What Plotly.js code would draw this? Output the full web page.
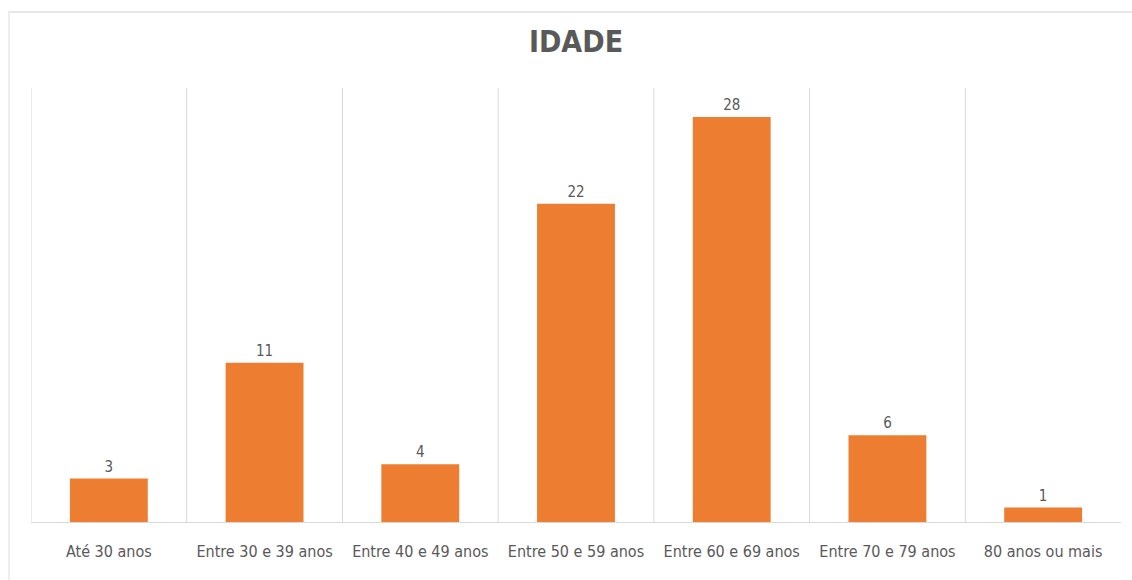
<!DOCTYPE html>
<html>
<head>
<meta charset="utf-8">
<script src="https://cdn.plot.ly/plotly-3.0.1.min.js"></script>
<style>
  html, body { margin: 0; padding: 0; background: #ffffff; }
  #chart { width: 1132px; height: 580px; position: relative; }
  #frame {
    position: absolute; left: 8px; top: 11px; right: 0; bottom: 0;
    border-top: 2px solid #e6e6e6; border-left: 2px solid #eeeeee;
    pointer-events: none;
  }
</style>
</head>
<body>
<div id="chart"></div>
<div id="frame"></div>
<script>
// Age groups and respondent counts
const categories = [
  "Até 30 anos",
  "Entre 30 e 39 anos",
  "Entre 40 e 49 anos",
  "Entre 50 e 59 anos",
  "Entre 60 e 69 anos",
  "Entre 70 e 79 anos",
  "80 anos ou mais"
];
const counts = [3, 11, 4, 22, 28, 6, 1];
const chartTitle = "IDADE";

const fontFamily = "'DejaVu Sans Condensed', 'DejaVu Sans', sans-serif";
const textGray = "#595959";
const gridGray = "#d9d9d9";
const yMax = 30;

// Vertical separators between categories (left edge included, right edge omitted)
const separators = [];
for (let i = 0; i < categories.length; i++) {
  separators.push({
    type: "line", xref: "x", yref: "y",
    x0: i - 0.5, x1: i - 0.5, y0: 0, y1: yMax,
    line: { color: gridGray, width: 1 },
    layer: "below"
  });
}

const trace = {
  type: "bar",
  x: categories,
  y: counts,
  width: 0.5,
  marker: { color: "#ED7D31" },
  text: counts.map(String),
  textposition: "outside",
  cliponaxis: false,
  textfont: { family: fontFamily, size: 15, color: textGray },
  hoverinfo: "x+y"
};

const layout = {
  width: 1132,
  height: 580,
  margin: { l: 31, r: 11, t: 88, b: 58 },
  paper_bgcolor: "#ffffff",
  plot_bgcolor: "#ffffff",
  showlegend: false,
  title: {
    text: "<b>" + chartTitle + "</b>",
    font: { family: fontFamily, size: 30, color: textGray },
    x: 0.5, xref: "paper",
    y: 1 - 41 / 580, yref: "container", yanchor: "middle"
  },
  xaxis: {
    type: "category",
    range: [-0.5, categories.length - 0.5],
    showgrid: false,
    showline: true,
    linecolor: gridGray,
    linewidth: 1,
    ticks: "",
    ticklabelstandoff: 15,
    tickfont: { family: fontFamily, size: 16, color: textGray },
    fixedrange: true
  },
  yaxis: {
    range: [0, yMax],
    showgrid: false,
    zeroline: false,
    showticklabels: false,
    ticks: "",
    fixedrange: true
  },
  shapes: separators,
  bargap: 0.5
};

Plotly.newPlot("chart", [trace], layout, { displayModeBar: false, staticPlot: true });
</script>
</body>
</html>
